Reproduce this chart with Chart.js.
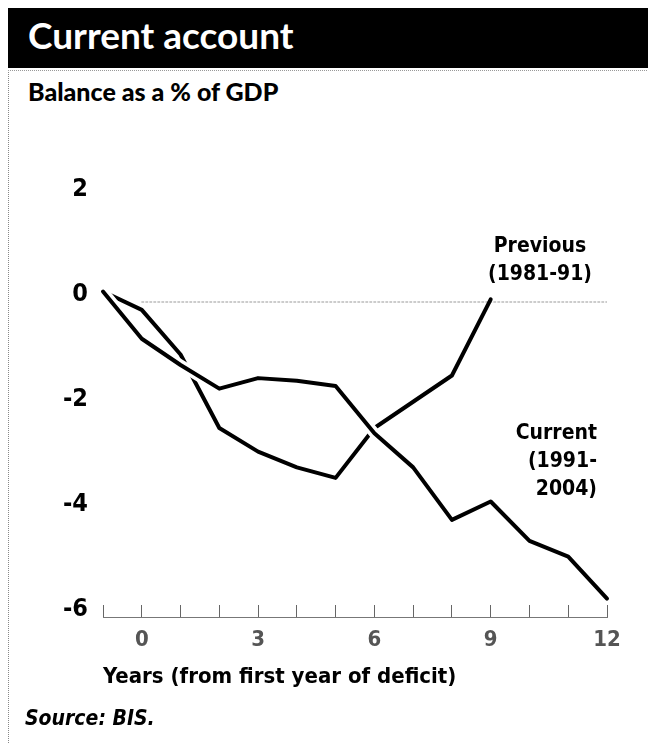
<!DOCTYPE html>
<html>
<head>
<meta charset="utf-8">
<script src="https://cdn.jsdelivr.net/npm/chart.js@4.4.1/dist/chart.umd.min.js"></script>
<style>
  body { margin: 0; background: #fff; }
  #page { position: relative; width: 648px; height: 744px; overflow: hidden; background: #fff; }
  #bar { position: absolute; left: 8px; top: 8px; width: 640px; height: 60px; background: #000; }
  #title { position: absolute; left: 28px; top: 12px; color: #fff; font: bold 37px Lato, "Open Sans", sans-serif; line-height: 46px; }
  #edge { position: absolute; left: 8px; top: 70px; width: 640px; height: 674px; border-left: 1px dotted #888; border-top: 1px dotted #999; }
  #subtitle { position: absolute; left: 28px; top: 76px; font: 900 25px Lato, "Open Sans", sans-serif; line-height: 30px; color: #000; }
  .lbl { position: absolute; font: bold 21px "Liberation Sans Narrow", "DejaVu Sans Condensed", sans-serif; line-height: 28px; color: #000; }
  #source { position: absolute; left: 25px; top: 704px; font: italic bold 21px "Liberation Sans Narrow", "DejaVu Sans Condensed", sans-serif; line-height: 28px; }
  #chart { position: absolute; left: 0; top: 0; }
</style>
</head>
<body>
<div id="page">
  <div id="bar"></div>
  <div id="title">Current account</div>
  <div id="edge"></div>
  <div id="subtitle">Balance as a % of GDP</div>
  <canvas id="chart" width="648" height="744"></canvas>
  <div class="lbl" style="left:480px; top:231px; width:120px; text-align:center;">Previous<br>(1981-91)</div>
  <div class="lbl" style="left:497px; top:418px; width:100px; text-align:right;">Current<br>(1991-<br>2004)</div>
  <div id="source">Source: BIS.</div>
</div>
<script>
// 데이터
var years = [-1, 0, 1, 2, 3, 4, 5, 6, 7, 8, 9, 10, 11, 12];
var currentValues = [0.2, -0.7, -1.2, -1.65, -1.45, -1.5, -1.6, -2.5, -3.15, -4.15, -3.8, -4.55, -4.85, -5.65];
var previousYears = [-1, 0, 1, 2, 3, 4, 5, 6, 7, 8, 9];
var previousValues = [0.2, -0.15, -1.0, -2.4, -2.85, -3.15, -3.35, -2.4, -1.9, -1.4, 0.05];
var zeroLineYears = [0, 12];
var xTickLabels = [0, 3, 6, 9, 12];
var yTicks = [-6, -4, -2, 0, 2];

function toPoints(xs, ys) {
  return xs.map(function (x, i) {
    return { x: x, y: ys[i] };
  });
}

var narrow = '"Liberation Sans Narrow", "DejaVu Sans Condensed", sans-serif';

var ctx = document.getElementById("chart");
var _lineChart = new Chart(ctx, {
  type: "line",
  data: {
    datasets: [
      {
        label: "Current (1991-2004)",
        data: toPoints(years, currentValues),
        borderColor: "#000",
        borderWidth: 4,
        clip: false,
      },
      {
        // 교차 지점의 흰 테두리
        label: "current-halo",
        data: toPoints(years, currentValues),
        borderColor: "#fff",
        borderWidth: 11,
        clip: false,
      },
      {
        label: "Previous (1981-91)",
        data: toPoints(previousYears, previousValues),
        borderColor: "#000",
        borderWidth: 4,
        clip: false,
      },
      {
        label: "zero",
        data: toPoints(zeroLineYears, [0, 0]),
        borderColor: "#999",
        borderWidth: 1,
        borderDash: [2, 2],
      },
    ],
  },
  options: {
    responsive: false,
    animation: false,
    events: [],
    layout: { padding: { left: 0, right: 41, top: 197, bottom: 0 } },
    elements: {
      line: { tension: 0, borderCapStyle: "round", borderJoinStyle: "round" },
      point: { radius: 0 },
    },
    plugins: { legend: { display: false }, tooltip: { enabled: false } },
    scales: {
      x: {
        type: "linear",
        min: -1,
        max: 12,
        afterFit: function (scale) {
          scale.height = 127;
        },
        afterBuildTicks: function (scale) {
          scale.ticks = years.map(function (v) {
            return { value: v };
          });
        },
        ticks: {
          autoSkip: false,
          maxRotation: 0,
          padding: 22,
          color: "#555",
          font: { family: narrow, size: 22, weight: "bold" },
          callback: function (v) {
            return xTickLabels.indexOf(v) >= 0 ? String(v) : "";
          },
        },
        grid: {
          drawOnChartArea: false,
          drawTicks: true,
          tickLength: -12,
          color: "#666",
          lineWidth: 1,
        },
        border: { display: true, color: "#777", width: 1 },
        title: {
          display: true,
          align: "start",
          text: "Years (from first year of deficit)",
          color: "#000",
          font: { family: narrow, size: 22, weight: "bold" },
          padding: { top: 0, bottom: 54 },
        },
      },
      y: {
        min: -6,
        max: 2,
        afterFit: function (scale) {
          scale.width = 103;
        },
        afterBuildTicks: function (scale) {
          scale.ticks = yTicks.map(function (v) {
            return { value: v };
          });
        },
        ticks: {
          padding: 15,
          labelOffset: -8,
          color: "#000",
          font: { family: narrow, size: 25, weight: "bold" },
        },
        grid: { display: false, drawTicks: false },
        border: { display: false },
      },
    },
  },
});
</script>
</body>
</html>
